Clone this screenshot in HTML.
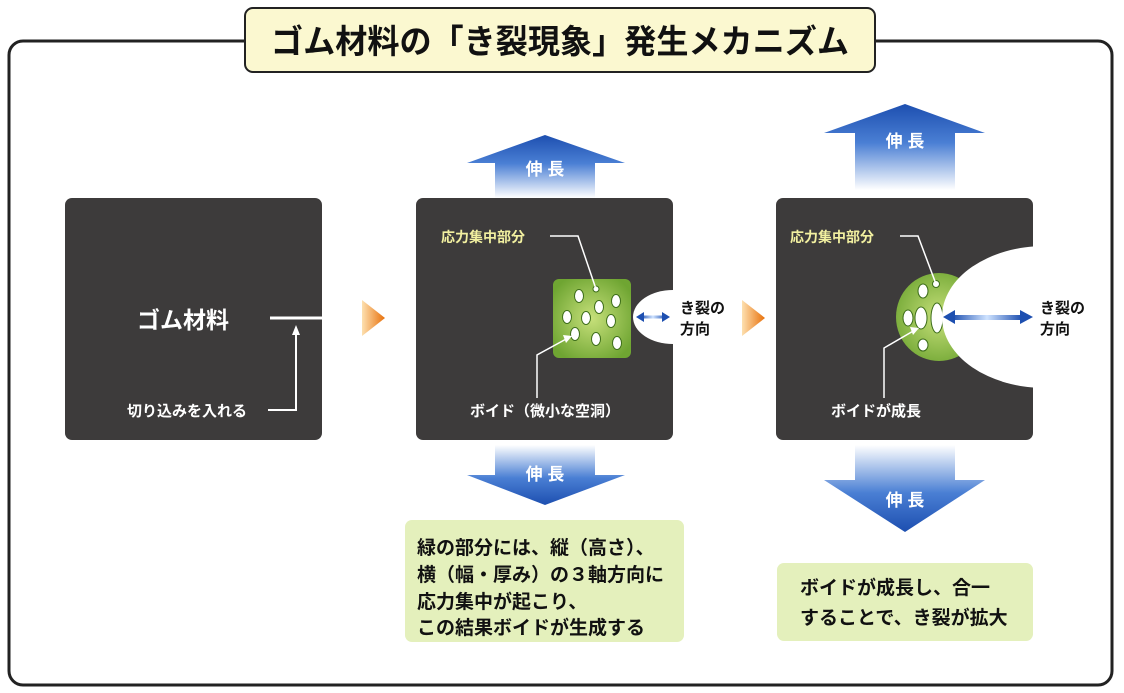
<!DOCTYPE html>
<html><head><meta charset="utf-8"><style>
html,body{margin:0;padding:0;background:#fff;}
svg{display:block;font-family:"Liberation Sans","Noto Sans CJK JP",sans-serif;font-weight:bold;}
</style></head><body>
<svg width="1124" height="693" viewBox="0 0 1124 693" xmlns="http://www.w3.org/2000/svg">
<defs>
<linearGradient id="up" x1="0" y1="0" x2="0" y2="1"><stop offset="0" stop-color="#1d4fb0"/><stop offset="0.45" stop-color="#4a7fd4"/><stop offset="1" stop-color="#ffffff"/></linearGradient>
<linearGradient id="dn" x1="0" y1="1" x2="0" y2="0"><stop offset="0" stop-color="#1d4fb0"/><stop offset="0.45" stop-color="#4a7fd4"/><stop offset="1" stop-color="#ffffff"/></linearGradient>
<linearGradient id="or" x1="0" y1="0" x2="1" y2="0"><stop offset="0" stop-color="#fde0b0"/><stop offset="1" stop-color="#e8700a"/></linearGradient>
<radialGradient id="gr" cx="0.5" cy="0.5" r="0.6"><stop offset="0" stop-color="#c6e07a"/><stop offset="1" stop-color="#6fa532"/></radialGradient>
<linearGradient id="dbl" x1="0" y1="0" x2="1" y2="0"><stop offset="0" stop-color="#1d4fb0"/><stop offset="0.5" stop-color="#cfe3ff"/><stop offset="1" stop-color="#1d4fb0"/></linearGradient>
<clipPath id="c3"><rect x="776" y="198" width="257" height="242" rx="7"/></clipPath>
</defs>

<rect x="9" y="41" width="1103" height="644" rx="14" fill="#fff" stroke="#222" stroke-width="3"/>
<rect x="245" y="8" width="630" height="64" rx="8" fill="#fbf8d0" stroke="#222" stroke-width="2"/>
<text x="560" y="53" font-size="33" text-anchor="middle" fill="#111" textLength="578" lengthAdjust="spacingAndGlyphs">ゴム材料の「き裂現象」発生メカニズム</text>

<!-- box1 -->
<rect x="65" y="198" width="257" height="242" rx="7" fill="#3d3b3b"/>
<text x="137" y="328" font-size="23" fill="#fff">ゴム材料</text>
<line x1="270" y1="318" x2="322" y2="318" stroke="#fff" stroke-width="3"/>
<path d="M296 334 V410 H268" fill="none" stroke="#fff" stroke-width="2"/>
<path d="M292 335 L296 325 L300 335 Z" fill="#fff"/>
<text x="127" y="416" font-size="15" fill="#fff">切り込みを入れる</text>

<path d="M362 300 L385 318 L362 336 Z" fill="url(#or)"/>
<path d="M742 300 L765 318 L742 336 Z" fill="url(#or)"/>

<!-- box2 arrows -->
<path d="M545 135 L625 163 L595 163 L595 198 L495 198 L495 163 L467 163 Z" fill="url(#up)"/>
<text x="545" y="175" font-size="17" fill="#fff" text-anchor="middle">伸 長</text>
<path d="M495 445 L595 445 L595 475 L625 475 L545 505 L467 475 L495 475 Z" fill="url(#dn)"/>
<text x="545" y="480" font-size="17" fill="#fff" text-anchor="middle">伸 長</text>

<rect x="416" y="198" width="257" height="242" rx="7" fill="#3d3b3b"/>
<ellipse cx="673" cy="317" rx="40" ry="27" fill="#fff"/>
<rect x="553" y="279" width="78" height="79" rx="6" fill="url(#gr)"/>
<g fill="#fff" stroke="#3d6e1a" stroke-width="1">
<ellipse cx="579" cy="296" rx="4.5" ry="6.5"/><ellipse cx="616" cy="301" rx="4.5" ry="6.5"/><ellipse cx="599" cy="307" rx="4.5" ry="6.5"/>
<ellipse cx="567" cy="317" rx="4.5" ry="6.5"/><ellipse cx="586" cy="318" rx="4.5" ry="6.5"/><ellipse cx="611" cy="321" rx="4.5" ry="6.5"/>
<ellipse cx="575" cy="334" rx="4.5" ry="6.5"/><ellipse cx="596" cy="339" rx="4.5" ry="6.5"/><ellipse cx="617" cy="343" rx="4.5" ry="6.5"/>
<circle cx="596" cy="289" r="3"/>
</g>
<path d="M550 236 H578 L596 289" fill="none" stroke="#fff" stroke-width="1.5"/>
<text x="441" y="242" font-size="14" fill="#f2f0a0">応力集中部分</text>
<path d="M537 398 V355 L568 338" fill="none" stroke="#fff" stroke-width="1.5"/>
<path d="M563 335 L572 336 L566 343 Z" fill="#fff"/>
<text x="470" y="416" font-size="15" fill="#fff">ボイド（微小な空洞）</text>
<rect x="640" y="315.5" width="26" height="3" fill="url(#dbl)"/>
<path d="M636 317 L644 312 L644 322 Z M670 317 L662 312 L662 322 Z" fill="#1d4fb0"/>
<text x="680" y="313" font-size="15" fill="#111">き裂の</text>
<text x="680" y="334" font-size="15" fill="#111">方向</text>

<!-- box3 -->
<path d="M905 104 L985 133 L955 133 L955 190 L855 190 L855 133 L824 133 Z" fill="url(#up)"/>
<text x="905" y="147" font-size="17" fill="#fff" text-anchor="middle">伸 長</text>
<path d="M855 445 L955 445 L955 480 L985 480 L905 532 L824 480 L855 480 Z" fill="url(#dn)"/>
<text x="905" y="506" font-size="17" fill="#fff" text-anchor="middle">伸 長</text>

<rect x="776" y="198" width="257" height="242" rx="7" fill="#3d3b3b"/>
<g clip-path="url(#c3)">
<ellipse cx="939" cy="317" rx="43" ry="44" fill="url(#gr)"/>
<g fill="#fff" stroke="#3d6e1a" stroke-width="1">
<ellipse cx="923" cy="291" rx="5" ry="7"/><ellipse cx="908" cy="318" rx="5" ry="8"/><ellipse cx="921" cy="318" rx="6" ry="11"/>
<ellipse cx="923" cy="345" rx="5" ry="6"/><circle cx="936" cy="284" r="3.5"/><ellipse cx="937" cy="318" rx="6" ry="15"/>
</g>
<ellipse cx="1045" cy="317" rx="103" ry="71" fill="#fff"/>
</g>
<path d="M900 236 H918 L936 284" fill="none" stroke="#fff" stroke-width="1.5"/>
<text x="790" y="242" font-size="14" fill="#f2f0a0">応力集中部分</text>
<path d="M884 398 V348 L915 330" fill="none" stroke="#fff" stroke-width="1.5"/>
<path d="M910 327 L919 328 L913 335 Z" fill="#fff"/>
<text x="831" y="416" font-size="15" fill="#fff">ボイドが成長</text>
<rect x="952" y="315" width="70" height="5" fill="url(#dbl)"/>
<path d="M943 317 L955 310 L955 324 Z M1033 317 L1020 310 L1020 324 Z" fill="#1d4fb0"/>
<text x="1040" y="313" font-size="15" fill="#111">き裂の</text>
<text x="1040" y="334" font-size="15" fill="#111">方向</text>

<!-- notes -->
<rect x="405" y="520" width="279" height="122" rx="7" fill="#e4f0bc"/>
<g font-size="19" fill="#111">
<text x="417" y="554">緑の部分には、縦（高さ）、</text>
<text x="417" y="581">横（幅・厚み）の３軸方向に</text>
<text x="417" y="608">応力集中が起こり、</text>
<text x="417" y="634">この結果ボイドが生成する</text>
</g>
<rect x="777" y="563" width="256" height="78" rx="7" fill="#e4f0bc"/>
<g font-size="19" fill="#111">
<text x="800" y="594">ボイドが成長し、合一</text>
<text x="800" y="624">することで、き裂が拡大</text>
</g>
</svg>
</body></html>
